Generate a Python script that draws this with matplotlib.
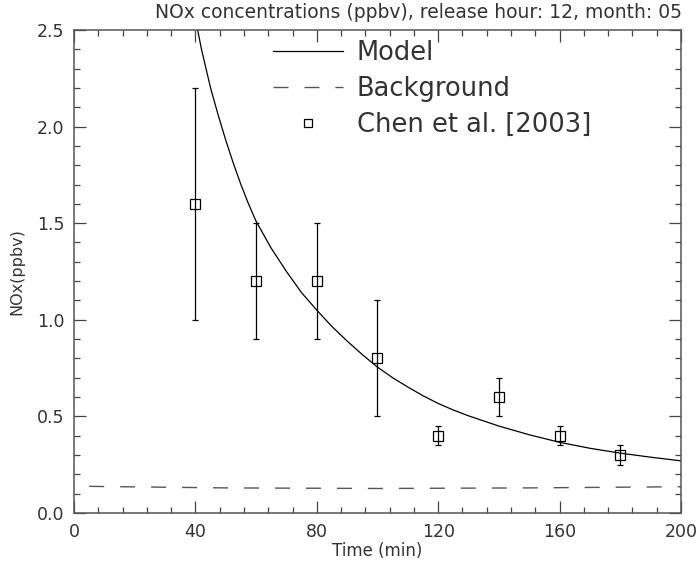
import matplotlib
matplotlib.use("Agg")
from matplotlib import pyplot as plt
from matplotlib.lines import Line2D
from matplotlib.ticker import MultipleLocator

plt.rcParams["font.family"] = ["DejaVu Sans"]

# model curve
model_t = [40, 42, 45, 47.5, 50, 52.5, 55, 57.5, 60, 65, 70, 75, 80, 85, 90, 95, 100,
           105, 110, 115, 120, 125, 130, 140, 150, 160, 170, 180, 190, 200]
model_nox = [2.56, 2.40, 2.20, 2.06, 1.93, 1.81, 1.70, 1.60, 1.51, 1.37, 1.25, 1.14, 1.05,
             0.965, 0.89, 0.82, 0.755, 0.70, 0.652, 0.607, 0.567, 0.533, 0.503, 0.45,
             0.405, 0.366, 0.335, 0.31, 0.289, 0.27]

# background
bg_t = [5, 50, 100, 150, 200]
bg_nox = [0.138, 0.130, 0.127, 0.130, 0.136]

# Chen et al. [2003] observations
obs_t = [40, 60, 80, 100, 120, 140, 160, 180]
obs_nox = [1.6, 1.2, 1.2, 0.8, 0.4, 0.6, 0.4, 0.3]
obs_err = [0.6, 0.3, 0.3, 0.3, 0.05, 0.1, 0.05, 0.05]

fig = plt.figure(figsize=(6.98, 5.67), dpi=100)
ax = fig.add_axes([0.106, 0.0952, 0.8696, 0.852])

dash = (0, (10.8, 11.5))
ax.plot(model_t, model_nox, color="black", linewidth=0.9)
ax.plot(bg_t, bg_nox, color="#555555", linewidth=1.0, linestyle=dash)
ax.errorbar(obs_t, obs_nox, yerr=obs_err, fmt="s", mfc="none", mec="black", ms=7,
            mew=0.9, ecolor="black", elinewidth=0.9, capsize=2.5, capthick=0.9)

ax.set_xlim(0, 200)
ax.set_ylim(0, 2.5)
ax.xaxis.set_major_locator(MultipleLocator(40))
ax.xaxis.set_minor_locator(MultipleLocator(8))
ax.yaxis.set_major_locator(MultipleLocator(0.5))
ax.yaxis.set_minor_locator(MultipleLocator(0.1))
ax.yaxis.set_major_formatter(plt.FormatStrFormatter("%.1f"))
ax.tick_params(which="both", direction="in", top=True, right=True, colors="#444444",
               labelcolor="#333333", labelsize=12.5, pad=7)
ax.tick_params(which="major", length=8.5, width=0.9)
ax.tick_params(which="minor", length=4.5, width=0.9)
for s in ax.spines.values():
    s.set_color("#555555")
    s.set_linewidth(1.1)

fig.text(0.6, 1 - 13 / 567, "NOx concentrations (ppbv), release hour: 12, month: 05",
         fontsize=13.5, color="#333333", ha="center", va="center")
ax.set_xlabel("Time (min)", fontsize=12, color="#333333", labelpad=1)
ax.set_ylabel("NOx(ppbv)", fontsize=11.5, color="#333333", labelpad=9)

handles = [
    Line2D([], [], color="black", linewidth=0.9),
    Line2D([], [], color="#555555", linewidth=1.0, linestyle=dash),
    Line2D([], [], linestyle="none", marker="s", mfc="none", mec="black", ms=6, mew=0.9),
]
labels = ["Model", "Background", "Chen et al. [2003]"]
leg = ax.legend(handles, labels, loc="upper left", bbox_to_anchor=(0.29, 1.027),
                frameon=False, fontsize=18.5, handlelength=2.7, handletextpad=0.55,
                labelspacing=0.38)
for t in leg.get_texts():
    t.set_color("#333333")

fig.savefig("out.png", dpi=100)
